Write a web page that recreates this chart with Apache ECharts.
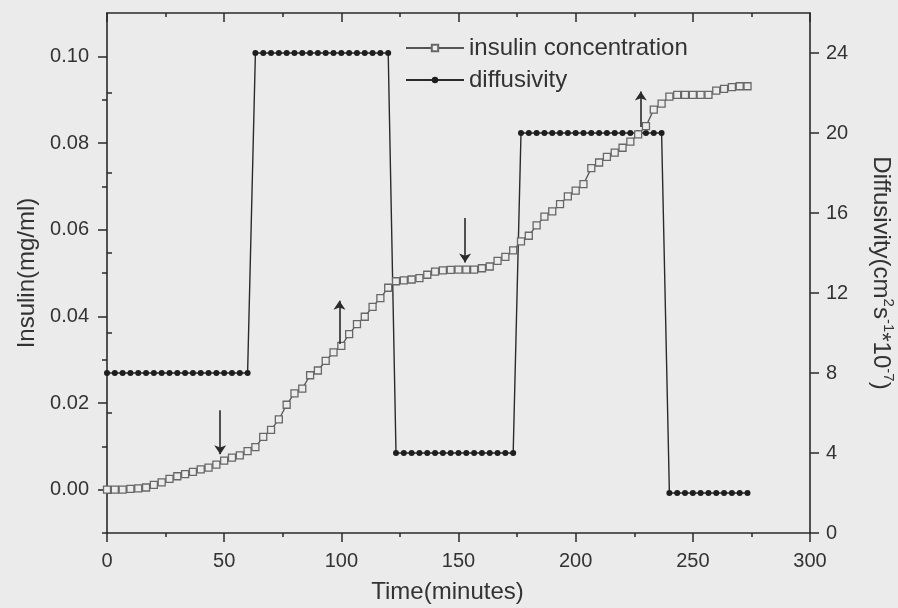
<!DOCTYPE html>
<html>
<head>
<meta charset="utf-8">
<script src="https://cdn.jsdelivr.net/npm/echarts@6/dist/echarts.min.js"></script>
<style>
html,body{margin:0;padding:0;background:#ebebeb;}
#chart{width:898px;height:608px;}
</style>
</head>
<body>
<div id="chart"></div>
<script>
// time (minutes)
const time = [0, 3.33, 6.67, 10, 13.33, 16.67, 20, 23.33, 26.67, 30, 33.33, 36.67, 40, 43.33, 46.67, 50, 53.33, 56.67, 60, 63.33, 66.67, 70, 73.33, 76.67, 80, 83.33, 86.67, 90, 93.33, 96.67, 100, 103.33, 106.67, 110, 113.33, 116.67, 120, 123.33, 126.67, 130, 133.33, 136.67, 140, 143.33, 146.67, 150, 153.33, 156.67, 160, 163.33, 166.67, 170, 173.33, 176.67, 180, 183.33, 186.67, 190, 193.33, 196.67, 200, 203.33, 206.67, 210, 213.33, 216.67, 220, 223.33, 226.67, 230, 233.33, 236.67, 240, 243.33, 246.67, 250, 253.33, 256.67, 260, 263.33, 266.67, 270, 273.33];
// insulin concentration (mg/ml)
const insulin = [0.0000, 0.0000, 0.0000, 0.0002, 0.0003, 0.0005, 0.0011, 0.0017, 0.0025, 0.0031, 0.0036, 0.0041, 0.0047, 0.0051, 0.0058, 0.0067, 0.0074, 0.0079, 0.0089, 0.0098, 0.0122, 0.0138, 0.0162, 0.0196, 0.0222, 0.0233, 0.0264, 0.0275, 0.0297, 0.0317, 0.0332, 0.0359, 0.0382, 0.0399, 0.0422, 0.0442, 0.0466, 0.0481, 0.0483, 0.0485, 0.0488, 0.0496, 0.0503, 0.0506, 0.0507, 0.0508, 0.0508, 0.0508, 0.0511, 0.0515, 0.0528, 0.0537, 0.0552, 0.0573, 0.0586, 0.0610, 0.0630, 0.0642, 0.0659, 0.0677, 0.0690, 0.0705, 0.0742, 0.0755, 0.0768, 0.0778, 0.0789, 0.0803, 0.0820, 0.0839, 0.0877, 0.0891, 0.0907, 0.0911, 0.0911, 0.0911, 0.0911, 0.0911, 0.0921, 0.0925, 0.0929, 0.0931, 0.0931];
// diffusivity (cm^2 s^-1 * 10^-7)
const diffusivity = [8, 8, 8, 8, 8, 8, 8, 8, 8, 8, 8, 8, 8, 8, 8, 8, 8, 8, 8, 24, 24, 24, 24, 24, 24, 24, 24, 24, 24, 24, 24, 24, 24, 24, 24, 24, 24, 4, 4, 4, 4, 4, 4, 4, 4, 4, 4, 4, 4, 4, 4, 4, 4, 20, 20, 20, 20, 20, 20, 20, 20, 20, 20, 20, 20, 20, 20, 20, 20, 20, 20, 20, 2, 2, 2, 2, 2, 2, 2, 2, 2, 2, 2];
// annotation arrows
const arrowT = [48.3, 99.2, 152.8, 227.8];
const arrowFrom = [0.0183, 0.0336, 0.0627, 0.0837];
const arrowTo = [0.0082, 0.0436, 0.0524, 0.0919];
// ticks
const leftTicks = [0, 0.02, 0.04, 0.06, 0.08, 0.10];
const leftMinor = [-0.01, 0.01, 0.03, 0.05, 0.07, 0.09];
const rightTicks = [0, 4, 8, 12, 16, 20, 24];
const rightMinor = [2, 6, 10, 14, 18, 22];

const axisColor = '#2a2a2a';
const textColor = '#333';
const font = 'Liberation Sans, Arial, sans-serif';

const insulinData = time.map((t, i) => [t, insulin[i]]);
const diffData = time.map((t, i) => [t, diffusivity[i]]);
const arrowData = arrowT.map((t, i) => [
  { coord: [t, arrowFrom[i]], symbol: 'none' },
  { coord: [t, arrowTo[i]], symbol: 'arrow' }
]);

const lineAx = { show: true, onZero: false, lineStyle: { color: axisColor, width: 1.6 } };

const chart = echarts.init(document.getElementById('chart'), null, { renderer: 'canvas' });
chart.setOption({
  animation: false,
  backgroundColor: '#ebebeb',
  textStyle: { fontFamily: font },
  grid: { left: 107, right: 88, top: 13, bottom: 75, containLabel: false, outerBoundsMode: 'none' },
  legend: {
    left: 400, top: 31, orient: 'vertical',
    itemWidth: 58, itemHeight: 8, itemGap: 8,
    textStyle: { fontSize: 24, color: textColor, lineHeight: 24, fontFamily: font },
    data: ['insulin concentration', 'diffusivity']
  },
  xAxis: [
    {
      type: 'value', min: 0, max: 300, interval: 50, position: 'bottom',
      axisLine: lineAx,
      axisTick: { show: true, inside: false, length: 9, lineStyle: { color: axisColor, width: 1.5 } },
      minorTick: { show: true, splitNumber: 2, length: 4, lineStyle: { color: axisColor, width: 1.5 } },
      axisLabel: { fontSize: 20, color: textColor, margin: 18 },
      splitLine: { show: false }, minorSplitLine: { show: false },
      name: 'Time(minutes)', nameLocation: 'middle', nameGap: 47,
      nameTextStyle: { fontSize: 24, color: textColor, padding: [0, 22, 0, 0] }
    },
    {
      type: 'value', min: 0, max: 300, interval: 50, position: 'top',
      axisLine: lineAx,
      axisTick: { show: true, inside: true, length: 9, lineStyle: { color: axisColor, width: 1.5 } },
      minorTick: { show: true, splitNumber: 2, length: 4, lineStyle: { color: axisColor, width: 1.5 } },
      axisLabel: { show: false },
      splitLine: { show: false }, minorSplitLine: { show: false }
    }
  ],
  yAxis: [
    {
      type: 'value', min: -0.01, max: 0.11, position: 'left',
      axisLine: lineAx,
      axisTick: { show: true, inside: false, length: 9, customValues: leftTicks, lineStyle: { color: axisColor, width: 1.5 } },
      axisLabel: { fontSize: 20, color: textColor, margin: 18, customValues: leftTicks, formatter: v => v.toFixed(2) },
      splitLine: { show: false },
      name: 'Insulin(mg/ml)', nameLocation: 'middle', nameGap: 63, nameRotate: 90,
      nameTextStyle: { fontSize: 24, color: textColor }
    },
    {
      type: 'value', min: 0, max: 26, position: 'right',
      axisLine: lineAx,
      axisTick: { show: true, inside: false, length: 9, customValues: rightTicks, lineStyle: { color: axisColor, width: 1.5 } },
      axisLabel: { fontSize: 20, color: textColor, margin: 16, customValues: rightTicks },
      splitLine: { show: false },
      name: 'Diffusivity(cm{sup|2}s{sup|-1}*10{sup|-7})', nameLocation: 'middle', nameGap: 56, nameRotate: -90,
      nameTextStyle: {
        fontSize: 24, color: textColor, lineHeight: 30,
        rich: { sup: { fontSize: 15, color: textColor, verticalAlign: 'top', lineHeight: 30, padding: [0, 0, 12, 0] } }
      }
    },
    {
      type: 'value', min: -0.01, max: 0.11, position: 'left',
      axisLine: { show: false },
      axisTick: { show: true, inside: false, length: 5, customValues: leftMinor, lineStyle: { color: axisColor, width: 1.5 } },
      axisLabel: { show: false }, splitLine: { show: false }
    },
    {
      type: 'value', min: 0, max: 26, position: 'right',
      axisLine: { show: false },
      axisTick: { show: true, inside: false, length: 5, customValues: rightMinor, lineStyle: { color: axisColor, width: 1.5 } },
      axisLabel: { show: false }, splitLine: { show: false }
    }
  ],
  series: [
    {
      name: 'diffusivity', type: 'line', xAxisIndex: 0, yAxisIndex: 1,
      data: diffData, symbol: 'circle', symbolSize: 6, showAllSymbol: true,
      itemStyle: { color: '#1e1e1e' },
      lineStyle: { color: '#2a2a2a', width: 1.4 },
      z: 2
    },
    {
      name: 'insulin concentration', type: 'line', xAxisIndex: 0, yAxisIndex: 0,
      data: insulinData, symbol: 'rect', symbolSize: 7, showAllSymbol: true,
      itemStyle: { color: '#ececec', borderColor: '#676767', borderWidth: 1.3 },
      lineStyle: { color: '#555', width: 1.3 },
      z: 3,
      markLine: {
        silent: true, symbolSize: 9, precision: 4,
        lineStyle: { color: '#2a2a2a', width: 1.6, type: 'solid' },
        label: { show: false },
        data: arrowData
      }
    }
  ]
});
</script>
</body>
</html>
